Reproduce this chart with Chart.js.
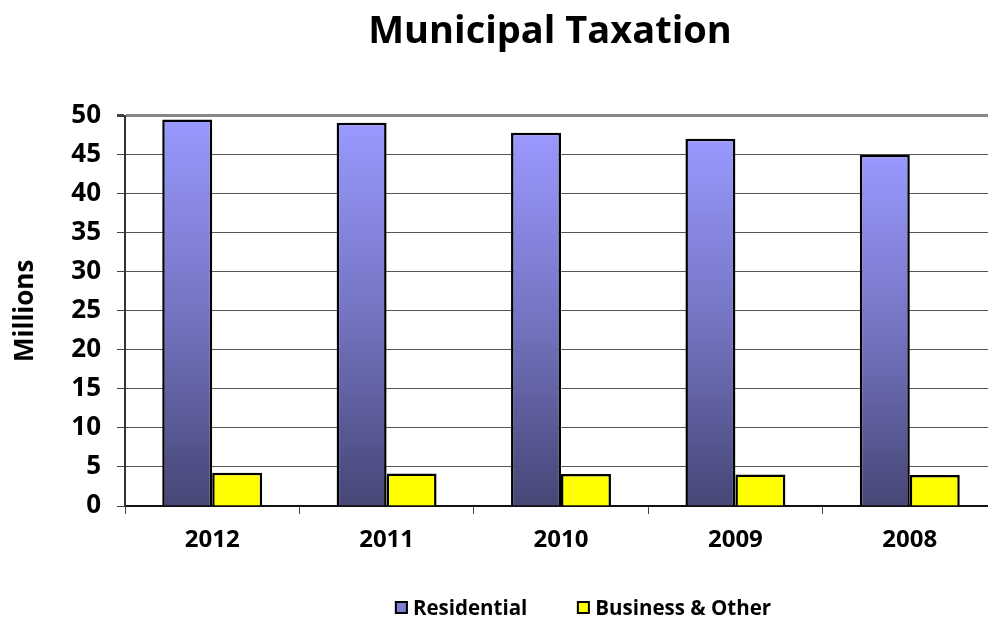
<!DOCTYPE html>
<html>
<head>
<meta charset="utf-8">
<script src="https://cdn.jsdelivr.net/npm/chart.js@4/dist/chart.umd.min.js"></script>
<style>
	html, body { margin: 0; padding: 0; background: #fff; overflow: hidden; }
	#wrap { position: relative; width: 988px; height: 619px; overflow: hidden; }
	#box { position: absolute; left: 0; top: 0; width: 1100px; height: 619px; }
	#legend {
		position: absolute; top: 593px; left: 583px; transform: translateX(-50%);
		display: flex; gap: 50px; white-space: nowrap;
		font-family: 'Open Sans', sans-serif; font-weight: 700; font-size: 20.5px; color: #000;
	}
	#legend span.item { display: flex; align-items: center; }
	#legend span.swatch { width: 9px; height: 9px; border: 2px solid #000; margin-right: 5px; }
</style>
</head>
<body>
<div id="wrap">
	<div id="box"><canvas id="chart" width="1100" height="619"></canvas></div>
	<div id="legend"></div>
</div>
<script>
const years = ['2012', '2011', '2010', '2009', '2008']
const residential = [49.5, 49.1, 47.8, 47.05, 45.0]
const business = [4.27, 4.17, 4.1, 4.05, 3.97]
const yTicks = [0, 5, 10, 15, 20, 25, 30, 35, 40, 45, 50]

const FONT = "'Open Sans', sans-serif"

function residentialFill(ctx) {
	const chart = ctx.chart
	const area = chart.chartArea
	if (!area || ctx.parsed == null) return '#9999ff'
	const yScale = chart.scales.y
	const top = yScale.getPixelForValue(ctx.parsed.y)
	const bottom = yScale.getPixelForValue(0)
	const g = chart.ctx.createLinearGradient(0, top, 0, bottom)
	g.addColorStop(0, '#9999ff')
	g.addColorStop(0.5, '#7474c2')
	g.addColorStop(1, '#464676')
	return g
}

const legendBox = document.getElementById('legend')
;[['Residential', '#7f7fd0'], ['Business & Other', '#ffff00']].forEach(([name, color]) => {
	const item = document.createElement('span')
	item.className = 'item'
	item.innerHTML = `<span class="swatch" style="background:${color}"></span>${name}`
	legendBox.appendChild(item)
})

new Chart(document.getElementById('chart').getContext('2d'), {
	type: 'bar',
	data: {
		labels: years,
		datasets: [
			{
				label: 'Residential',
				data: residential,
				backgroundColor: residentialFill,
				borderColor: '#000',
				borderWidth: 2.5,
				categoryPercentage: 0.573,
				barPercentage: 1.0,
			},
			{
				label: 'Business & Other',
				data: business,
				backgroundColor: '#ffff00',
				borderColor: '#000',
				borderWidth: 2.5,
				categoryPercentage: 0.573,
				barPercentage: 1.0,
			},
		],
	},
	options: {
		responsive: false,
		animation: false,
		layout: { padding: 0 },
		plugins: {
			legend: { display: false },
			tooltip: { enabled: false },
			title: {
				display: true,
				text: 'Municipal Taxation',
				color: '#000',
				font: { family: FONT, size: 38, weight: '700' },
				padding: { top: 9, bottom: 61 },
			},
		},
		scales: {
			x: {
				offset: true,
				grid: {
					offset: true,
					drawOnChartArea: false,
					drawTicks: true,
					tickLength: 8,
					color: '#444',
				},
				border: { display: true, color: '#111', width: 2 },
				ticks: {
					color: '#000',
					padding: 12,
					font: { family: FONT, size: 24, weight: '700' },
				},
				afterFit: s => { s.height = 113 },
			},
			y: {
				min: 0,
				max: 50,
				afterBuildTicks: s => { s.ticks = yTicks.map(v => ({ value: v })) },
				grid: {
					color: ctx => (ctx.tick && ctx.tick.value === 50 ? '#888' : '#555'),
					lineWidth: ctx => (ctx.tick && ctx.tick.value === 50 ? 3 : 1),
					tickLength: 8,
					tickColor: '#444',
				},
				border: { display: true, color: '#333', width: 2 },
				ticks: {
					color: '#000',
					padding: 16,
					font: { family: FONT, size: 26, weight: '700' },
				},
				title: {
					display: true,
					text: 'Millions',
					color: '#000',
					font: { family: FONT, size: 26, weight: '700' },
					padding: { top: 10, bottom: 0 },
				},
				afterFit: s => { s.width = 125 },
			},
			// empty right-hand axis: keeps the plot ending at the window edge
			// while the title stays centred on the wider canvas
			yRight: {
				position: 'right',
				display: true,
				grid: { display: false },
				border: { display: false },
				ticks: { display: false },
				afterFit: s => { s.width = 103 },
			},
		},
	},
})
</script>
</body>
</html>
